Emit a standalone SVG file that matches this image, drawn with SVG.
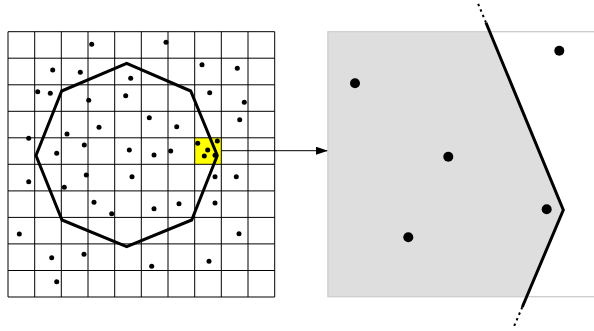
<svg xmlns="http://www.w3.org/2000/svg" width="594" height="331" viewBox="0 0 594 331">
<style>
.grid{fill:none;stroke:#000;stroke-width:1}
.poly{fill:none;stroke:#000;stroke-width:3;stroke-linejoin:miter}
.dot{fill:#000}
.big{fill:#000}
.ext{fill:none;stroke:#000;stroke-width:2;stroke-dasharray:2.5,3.5}
.conn{fill:none;stroke:#000;stroke-width:1}
</style>
<defs>
<marker id="ah" viewBox="0 0 12 8" refX="12" refY="4" markerWidth="12" markerHeight="8" markerUnits="userSpaceOnUse" orient="auto">
<path d="M0,0 L12,4 L0,8 Z" fill="#000"/>
</marker>
</defs>
<rect width="594" height="331" fill="#fff"/>
<g id="grid-view">
<rect x="194.7" y="137.7" width="26.6" height="26.5" fill="#ffff00"/>
<path class="grid" d="M8,31.7V297 M34.7,31.7V297 M61.3,31.7V297 M88,31.7V297 M114.7,31.7V297 M141.3,31.7V297 M168,31.7V297 M194.7,31.7V297 M221.3,31.7V297 M248,31.7V297 M274.7,31.7V297 M8,31.7H274.7 M8,58.2H274.7 M8,84.8H274.7 M8,111.3H274.7 M8,137.8H274.7 M8,164.3H274.7 M8,190.9H274.7 M8,217.4H274.7 M8,243.9H274.7 M8,270.5H274.7 M8,297H274.7"/>
<polygon class="poly" points="126.7,63.3 190.7,91 217.3,155.5 191.7,220 126.7,246.7 62,220 36,155.5 61.7,91"/>
<g class="dot">
<circle cx="91.7" cy="44.3" r="2.5"/>
<circle cx="52.7" cy="70" r="2.5"/>
<circle cx="80.3" cy="72.3" r="2.5"/>
<circle cx="130.7" cy="78.3" r="2.5"/>
<circle cx="37.7" cy="91.7" r="2.5"/>
<circle cx="50.3" cy="93.3" r="2.5"/>
<circle cx="88.7" cy="100.3" r="2.5"/>
<circle cx="125.7" cy="95.7" r="2.5"/>
<circle cx="99" cy="127.3" r="2.5"/>
<circle cx="67" cy="134" r="2.5"/>
<circle cx="28.7" cy="138.3" r="2.5"/>
<circle cx="84.3" cy="145" r="2.5"/>
<circle cx="56.7" cy="153.3" r="2.5"/>
<circle cx="129.3" cy="150" r="2.5"/>
<circle cx="166" cy="42.3" r="2.5"/>
<circle cx="202" cy="64.7" r="2.5"/>
<circle cx="237.3" cy="68.3" r="2.5"/>
<circle cx="209.7" cy="92.7" r="2.5"/>
<circle cx="244.3" cy="102.3" r="2.5"/>
<circle cx="149.3" cy="117.7" r="2.5"/>
<circle cx="176.7" cy="126.7" r="2.5"/>
<circle cx="239.7" cy="119.7" r="2.5"/>
<circle cx="154" cy="155" r="2.5"/>
<circle cx="170.7" cy="151" r="2.5"/>
<circle cx="197.7" cy="143.3" r="2.5"/>
<circle cx="217.3" cy="141" r="2.5"/>
<circle cx="207.7" cy="150" r="2.5"/>
<circle cx="204.3" cy="156" r="2.5"/>
<circle cx="215" cy="155.3" r="2.5"/>
<circle cx="28.7" cy="181.7" r="2.5"/>
<circle cx="64.3" cy="187.3" r="2.5"/>
<circle cx="86.3" cy="175" r="2.5"/>
<circle cx="132" cy="176.7" r="2.5"/>
<circle cx="94" cy="202.3" r="2.5"/>
<circle cx="111.7" cy="213.7" r="2.5"/>
<circle cx="19.3" cy="234" r="2.5"/>
<circle cx="51.7" cy="257.7" r="2.5"/>
<circle cx="84" cy="254.3" r="2.5"/>
<circle cx="56.7" cy="281.7" r="2.5"/>
<circle cx="215" cy="176.7" r="2.5"/>
<circle cx="236.3" cy="176.7" r="2.5"/>
<circle cx="154" cy="208.7" r="2.5"/>
<circle cx="179" cy="203.7" r="2.5"/>
<circle cx="215" cy="203" r="2.5"/>
<circle cx="239" cy="233.7" r="2.5"/>
<circle cx="209" cy="261.3" r="2.5"/>
<circle cx="151.7" cy="266.3" r="2.5"/>
</g>
</g>
<g id="connectors">
<line class="conn" x1="221.3" y1="150.7" x2="328" y2="150.7" marker-end="url(#ah)"/>
</g>
<g id="zoom-view">
<rect x="328" y="31.7" width="280" height="265" fill="#fff" stroke="#cccccc" stroke-width="1"/>
<polygon points="328,31.7 488.8,31.7 563.3,210 526.4,296.7 328,296.7" fill="#dedede"/>
<rect x="328" y="31.7" width="280" height="265" fill="none" stroke="#cccccc" stroke-width="1"/>
<polyline class="poly" points="486,22.7 563.3,210 522.3,307"/>
<line class="ext" x1="486" y1="22.7" x2="477.6" y2="2.5"/>
<line class="ext" x1="522.3" y1="307" x2="513.5" y2="327.5"/>
<g class="big">
<circle cx="355" cy="83.3" r="5"/>
<circle cx="559.3" cy="50.7" r="5"/>
<circle cx="448.3" cy="156.7" r="5"/>
<circle cx="546.7" cy="209.3" r="5"/>
<circle cx="408.3" cy="237.3" r="5"/>
</g>
</g>
</svg>
